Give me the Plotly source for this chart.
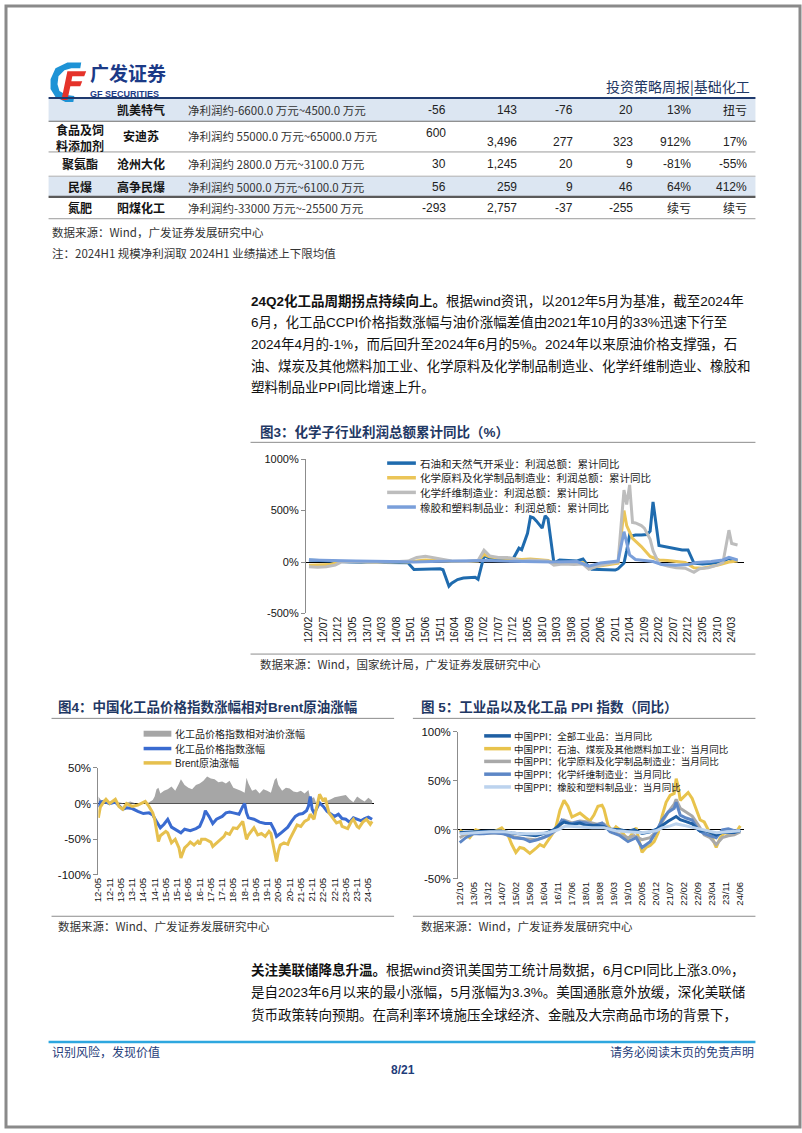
import plotly.graph_objects as go
import pandas as pd

W, H = 802, 1133
def X(p): return p / W
def Y(p): return 1 - p / H

SANS = "Liberation Sans, Noto Sans CJK SC, sans-serif"
CJK = "Noto Sans CJK SC, Liberation Sans, sans-serif"
NAVY = "#1F3864"
TXT = "#141414"

# ====================== DATA ======================
# --- table (continued from previous page) ---
tbl_industry = ["", "食品及饲<br>料添加剂", "聚氨酯", "民爆", "氮肥"]
tbl_company = ["凯美特气", "安迪苏", "沧州大化", "高争民爆", "阳煤化工"]
tbl_desc = ["净利润约-6600.0 万元~4500.0 万元", "净利润约 55000.0 万元~65000.0 万元",
            "净利润约 2800.0 万元~3100.0 万元", "净利润约 5000.0 万元~6100.0 万元",
            "净利润约-33000 万元~-25500 万元"]
tbl_c1 = ["-56", "600", "30", "56", "-293"]
tbl_c2 = ["143", "3,496", "1,245", "259", "2,757"]
tbl_c3 = ["-76", "277", "20", "9", "-37"]
tbl_c4 = ["20", "323", "9", "46", "-255"]
tbl_c5 = ["13%", "912%", "-81%", "64%", "续亏"]
tbl_c6 = ["扭亏", "17%", "-55%", "412%", "续亏"]

# --- figure 3 ---
fig3_ticks = ["12/02", "12/07", "12/12", "13/05", "13/10", "14/03", "14/08", "15/01", "15/06", "15/11",
              "16/04", "16/09", "17/02", "17/07", "17/12", "18/05", "18/10", "19/03", "19/08", "20/01",
              "20/06", "20/11", "21/04", "21/09", "22/02", "22/07", "22/12", "23/05", "23/10", "24/03"]
fig3_yticks = [-500, 0, 500, 1000]
fig3_names = ["石油和天然气开采业：利润总额：累计同比", "化学原料及化学制品制造业：利润总额：累计同比",
              "化学纤维制造业：利润总额：累计同比", "橡胶和塑料制品业：利润总额：累计同比"]

oil_dates = ["2012-02", "2012-05", "2012-09", "2012-12", "2013-04", "2013-08", "2013-12", "2014-04", "2014-08",
             "2014-12", "2015-02", "2015-05", "2015-08", "2015-11", "2015-12", "2016-02", "2016-03", "2016-05",
             "2016-07", "2016-09", "2016-11", "2016-12", "2017-02", "2017-04", "2017-07", "2017-10", "2017-12",
             "2018-02", "2018-03", "2018-04", "2018-05", "2018-06", "2018-07", "2018-08", "2018-09", "2018-10",
             "2018-11", "2018-12", "2019-02", "2019-04", "2019-07", "2019-10", "2019-12", "2020-02", "2020-03",
             "2020-06", "2020-09", "2020-11", "2020-12", "2021-02", "2021-03", "2021-04", "2021-05", "2021-06",
             "2021-08", "2021-10", "2021-11", "2021-12", "2022-02", "2022-04", "2022-06", "2022-08", "2022-10",
             "2022-12", "2023-02", "2023-05", "2023-08", "2023-11", "2024-02", "2024-03", "2024-05"]
oil_vals = [20, 15, 5, 5, 0, -3, 2, -5, -3,
            -8, -72, -68, -66, -65, -75, -235, -205, -170,
            -155, -150, -148, -168, 60, 40, 30, 25, 30,
            135, 120, 200, 280, 440, 430, 400, 360, 330,
            450, 420, -10, 20, 15, 10, 30, -50, -70,
            -72, -75, -78, -65, -10, 110, 265, 255, 262,
            262, 268, 300, 585, 160, 150, 140, 125, 118,
            118, -10, -18, -15, -5, 35, 20, 12]

chem_dates = ["2012-02", "2012-06", "2012-09", "2012-11", "2013-01", "2013-06", "2014-01", "2014-06", "2014-12",
              "2015-03", "2015-06", "2015-09", "2015-12", "2016-03", "2016-08", "2016-12", "2017-02", "2017-04",
              "2017-07", "2017-10", "2017-12", "2018-03", "2018-06", "2018-09", "2018-12", "2019-02", "2019-06",
              "2019-10", "2019-12", "2020-02", "2020-04", "2020-07", "2020-10", "2020-12", "2021-02", "2021-03",
              "2021-05", "2021-08", "2021-11", "2022-02", "2022-05", "2022-08", "2022-11", "2022-12", "2023-02",
              "2023-05", "2023-08", "2023-11", "2024-02", "2024-05"]
chem_vals = [-30, -30, -25, -10, 5, 5, 0, 5, 0,
             10, 20, 15, 10, 5, 5, 10, 75, 50,
             40, 35, 30, 25, 30, 25, 15, -10, -5,
             -10, -5, -55, -45, -30, -20, -10, 500, 355,
             230, 150, 55, 20, 15, 5, -5, -20, -55,
             -60, -45, -25, 0, 10]

fiber_dates = ["2012-02", "2012-05", "2012-08", "2012-11", "2013-01", "2013-06", "2013-12", "2014-06", "2014-12",
               "2015-03", "2015-06", "2015-09", "2015-12", "2016-03", "2016-08", "2016-12", "2017-02", "2017-04",
               "2017-07", "2017-10", "2017-12", "2018-03", "2018-06", "2018-09", "2018-12", "2019-02", "2019-05",
               "2019-09", "2019-12", "2020-02", "2020-05", "2020-08", "2020-11", "2020-12", "2021-02", "2021-03",
               "2021-04", "2021-05", "2021-06", "2021-07", "2021-08", "2021-09", "2021-10", "2021-11", "2021-12",
               "2022-02", "2022-05", "2022-08", "2022-11", "2023-02", "2023-04", "2023-07", "2023-10", "2023-12",
               "2024-02", "2024-03", "2024-05"]
fiber_vals = [-45, -50, -45, -30, 0, 5, 0, 0, 10,
              45, 55, 40, 25, 10, 5, 15, 115, 60,
              45, 45, 35, 10, 20, 15, 10, -30, -20,
              -25, -20, -70, -40, -20, -10, 0, 700, 560,
              750, 385, 380, 365, 355, 330, 280, 220, 110,
              -15, -40, -55, -60, -100, -65, -55, -30, -5,
              310, 180, 165]

rubber_dates = ["2012-02", "2012-08", "2012-12", "2013-06", "2014-06", "2015-02", "2015-08", "2016-06", "2017-02",
                "2017-08", "2018-06", "2019-02", "2019-10", "2020-02", "2020-06", "2020-12", "2021-02", "2021-03",
                "2021-04", "2021-06", "2021-09", "2021-12", "2022-03", "2022-08", "2022-12", "2023-03", "2023-08",
                "2023-12", "2024-02", "2024-05"]
rubber_vals = [20, 15, 10, 10, 5, 0, 5, 10, 15,
               10, 5, 0, 5, -40, -10, 10, 295, 180,
               70, 25, 15, 5, -25, -30, -25, -5, 5,
               20, 45, 20]

# --- figure 4 ---
fig4_ticks = ["12-05", "12-11", "13-05", "13-11", "14-05", "14-11", "15-05", "15-11", "16-05", "16-11",
              "17-05", "17-11", "18-05", "18-11", "19-05", "19-11", "20-05", "20-11", "21-05", "21-11",
              "22-05", "22-11", "23-05", "23-11", "24-05"]
fig4_yticks = [-100, -50, 0, 50]
fig4_names = ["化工品价格指数相对油价涨幅", "化工品价格指数涨幅", "Brent原油涨幅"]

ccpi_dates = ["2012-05", "2012-06", "2012-08", "2012-11", "2013-02", "2013-04", "2013-06", "2013-08", "2013-11",
              "2014-02", "2014-05", "2014-08", "2014-10", "2014-12", "2015-02", "2015-04", "2015-06", "2015-08",
              "2015-10", "2016-01", "2016-03", "2016-06", "2016-09", "2016-11", "2017-01", "2017-02", "2017-04",
              "2017-06", "2017-08", "2017-11", "2018-01", "2018-03", "2018-05", "2018-08", "2018-10", "2018-11",
              "2018-12", "2019-01", "2019-04", "2019-07", "2019-10", "2020-01", "2020-03", "2020-04", "2020-06",
              "2020-08", "2020-10", "2020-12", "2021-02", "2021-04", "2021-06", "2021-08", "2021-09", "2021-10",
              "2021-11", "2021-12", "2022-01", "2022-03", "2022-05", "2022-07", "2022-09", "2022-11", "2023-01",
              "2023-03", "2023-05", "2023-07", "2023-09", "2023-11", "2024-01", "2024-03", "2024-05", "2024-07"]
ccpi_vals = [-5, 2, 3, 0, 2, -3, -8, -6, -7,
             -11, -14, -13, -16, -25, -34, -29, -22, -33,
             -36, -41, -36, -38, -35, -32, -20, -10, -18,
             -28, -22, -18, -13, -12, -13, -15, -4, 0,
             -13, -20, -22, -26, -28, -28, -38, -46, -42,
             -37, -33, -25, -18, -15, -14, -10, -4, 10,
             -8, -13, -9, 1, -4, -11, -15, -18, -15,
             -21, -22, -26, -20, -22, -24, -21, -19, -22]

brent_dates = ["2012-05", "2012-06", "2012-08", "2012-09", "2012-11", "2013-02", "2013-04", "2013-06", "2013-08",
               "2013-11", "2014-02", "2014-06", "2014-08", "2014-10", "2014-11", "2015-01", "2015-02", "2015-05",
               "2015-06", "2015-08", "2015-10", "2015-12", "2016-01", "2016-03", "2016-05", "2016-06", "2016-08",
               "2016-10", "2016-11", "2016-12", "2017-02", "2017-05", "2017-06", "2017-08", "2017-10", "2017-12",
               "2018-01", "2018-03", "2018-05", "2018-07", "2018-10", "2018-12", "2019-01", "2019-04", "2019-06",
               "2019-08", "2019-10", "2019-12", "2020-01", "2020-03", "2020-04", "2020-05", "2020-06", "2020-08",
               "2020-10", "2020-11", "2021-01", "2021-03", "2021-05", "2021-07", "2021-09", "2021-10", "2021-12",
               "2022-01", "2022-03", "2022-05", "2022-06", "2022-08", "2022-10", "2022-12", "2023-02", "2023-03",
               "2023-05", "2023-06", "2023-08", "2023-09", "2023-11", "2023-12", "2024-02", "2024-04", "2024-06",
               "2024-07"]
brent_vals = [-20, -5, 3, 6, 0, 6, -4, -8, 0,
              -4, -2, 3, -4, -13, -22, -53, -45, -39,
              -41, -55, -50, -62, -76, -62, -57, -54, -58,
              -53, -57, -50, -50, -54, -60, -55, -50, -46,
              -41, -43, -34, -35, -25, -50, -44, -34, -44,
              -42, -46, -39, -42, -70, -81, -67, -58, -55,
              -57, -50, -39, -30, -32, -25, -22, -15, -22,
              -11, 13, 3, 8, -13, -20, -27, -25, -32,
              -34, -35, -25, -22, -32, -34, -26, -22, -29,
              -25]

spread_dates = ["2012-05", "2012-06", "2012-08", "2012-10", "2013-01", "2013-04", "2013-07", "2013-10", "2014-01",
                "2014-04", "2014-07", "2014-10", "2014-11", "2014-12", "2015-01", "2015-02", "2015-04", "2015-06",
                "2015-08", "2015-10", "2015-12", "2016-01", "2016-03", "2016-05", "2016-07", "2016-09", "2016-11",
                "2017-01", "2017-03", "2017-05", "2017-07", "2017-09", "2017-11", "2018-01", "2018-03", "2018-05",
                "2018-07", "2018-09", "2018-11", "2018-12", "2019-01", "2019-03", "2019-05", "2019-07", "2019-09",
                "2019-11", "2020-01", "2020-03", "2020-04", "2020-05", "2020-07", "2020-09", "2020-11", "2021-01",
                "2021-03", "2021-05", "2021-07", "2021-09", "2021-10", "2021-12", "2022-01", "2022-03", "2022-05",
                "2022-07", "2022-09", "2022-11", "2023-01", "2023-03", "2023-05", "2023-07", "2023-09", "2023-11",
                "2024-01", "2024-03", "2024-05", "2024-07"]
spread_vals = [10, 6, 1, 2, 0, 2, 0, 3, 0,
               0, 0, 5, 10, 20, 22, 14, 18, 20,
               24, 18, 28, 34, 26, 22, 20, 26, 28,
               32, 38, 35, 34, 30, 31, 28, 32, 22,
               20, 18, 15, 36, 28, 18, 20, 14, 20,
               18, 15, 33, 36, 26, 18, 22, 21, 17,
               16, 18, 14, 19, 7, 9, 2, 0, 0,
               4, 6, 9, 10, 11, 12, 6, 2, 10,
               6, 3, 8, 4]

# --- figure 5 ---
fig5_ticks = ["12/10", "13/05", "13/12", "14/07", "15/02", "15/09", "16/04", "16/11", "17/06", "18/01", "18/08",
              "19/03", "19/10", "20/05", "20/12", "21/07", "22/02", "22/09", "23/04", "23/11", "24/06"]
fig5_yticks = [-50, 0, 50, 100]
fig5_names = ["中国PPI：全部工业品：当月同比", "中国PPI：石油、煤炭及其他燃料加工业：当月同比",
              "中国PPI：化学原料及化学制品制造业：当月同比", "中国PPI：化学纤维制造业：当月同比",
              "中国PPI：橡胶和塑料制品业：当月同比"]

ppi_all_dates = ["2012-10", "2013-03", "2013-08", "2013-12", "2014-06", "2014-12", "2015-06", "2015-12", "2016-06",
                 "2016-09", "2016-12", "2017-02", "2017-06", "2017-10", "2018-01", "2018-06", "2018-10", "2018-12",
                 "2019-06", "2019-10", "2020-01", "2020-05", "2020-09", "2020-12", "2021-03", "2021-06", "2021-10",
                 "2021-12", "2022-03", "2022-06", "2022-10", "2022-12", "2023-03", "2023-06", "2023-09", "2023-12",
                 "2024-03", "2024-06"]
ppi_all_vals = [-2.8, -1.9, -1.6, -1.4, -1.1, -3.3, -4.8, -5.9, -2.6,
                0.1, 5.5, 7.8, 5.5, 6.9, 4.3, 4.7, 3.3, 0.9,
                0.0, -1.6, 0.1, -3.7, -2.1, 0.4, 4.4, 8.8, 13.5,
                10.3, 8.3, 6.1, -1.3, -0.7, -2.5, -5.4, -2.5, -2.7,
                -2.8, -0.8]

ppi_fuel_dates = ["2012-10", "2012-12", "2013-03", "2013-06", "2013-10", "2014-02", "2014-07", "2014-10", "2014-12",
                  "2015-02", "2015-04", "2015-06", "2015-09", "2015-12", "2016-02", "2016-04", "2016-06", "2016-08",
                  "2016-10", "2016-12", "2017-02", "2017-04", "2017-06", "2017-08", "2017-10", "2018-01", "2018-03",
                  "2018-05", "2018-07", "2018-09", "2018-10", "2018-12", "2019-02", "2019-04", "2019-06", "2019-08",
                  "2019-10", "2019-12", "2020-02", "2020-04", "2020-05", "2020-07", "2020-09", "2020-11", "2021-01",
                  "2021-03", "2021-05", "2021-07", "2021-09", "2021-10", "2021-11", "2021-12", "2022-02", "2022-04",
                  "2022-06", "2022-08", "2022-10", "2022-12", "2023-02", "2023-04", "2023-06", "2023-08", "2023-10",
                  "2023-12", "2024-02", "2024-04", "2024-06"]
ppi_fuel_vals = [0, -3, -8, 0, -3, -3, 2, -5, -15,
                 -23, -18, -19, -24, -19, -15, -17, -11, -5,
                 3, 20, 30, 24, 13, 15, 17, 12, 9,
                 15, 24, 25, 21, 5, -2, 3, 0, -5,
                 -10, -4, 2, -15, -23, -18, -16, -12, -3,
                 14, 28, 35, 37, 52, 44, 30, 34, 38,
                 32, 20, 10, 8, 0, -8, -18, -8, -3,
                 -4, -3, -2, 4]

ppi_chem_dates = ["2012-10", "2013-02", "2013-08", "2014-02", "2014-08", "2015-01", "2015-06", "2015-12", "2016-04",
                  "2016-08", "2016-11", "2017-02", "2017-06", "2017-10", "2018-02", "2018-06", "2018-10", "2019-02",
                  "2019-06", "2019-10", "2020-01", "2020-05", "2020-09", "2020-12", "2021-03", "2021-06", "2021-09",
                  "2021-10", "2021-12", "2022-03", "2022-06", "2022-09", "2022-12", "2023-03", "2023-06", "2023-09",
                  "2023-12", "2024-03", "2024-06"]
ppi_chem_vals = [-8, -3, -4, -3, -4, -7, -9, -10, -8,
                 -4, 1, 10, 7, 9, 8, 6, 6, -2,
                 -5, -8, -6, -10, -8, -2, 8, 18, 26,
                 31, 22, 18, 14, 5, -5, -8, -15, -8,
                 -6, -5, -2]

ppi_fiber_dates = ["2012-10", "2013-01", "2013-05", "2013-10", "2014-03", "2014-08", "2015-01", "2015-06", "2015-09",
                   "2016-01", "2016-06", "2016-10", "2017-01", "2017-05", "2017-09", "2018-01", "2018-05", "2018-09",
                   "2019-01", "2019-06", "2019-10", "2020-02", "2020-05", "2020-09", "2020-12", "2021-03", "2021-06",
                   "2021-09", "2021-10", "2021-12", "2022-03", "2022-06", "2022-09", "2022-12", "2023-03", "2023-06",
                   "2023-09", "2023-12", "2024-03", "2024-06"]
ppi_fiber_vals = [-13, -8, -4, -4, -3, -4, -8, -9, -12,
                  -10, -6, 0, 10, 6, 8, 7, 4, 7,
                  -2, -6, -12, -8, -18, -12, -2, 10, 18,
                  22, 28, 15, 12, 10, 0, -4, -6, -8,
                  0, 1, -1, -1]

ppi_rubber_dates = ["2012-10", "2013-04", "2014-01", "2014-08", "2015-04", "2015-12", "2016-06", "2016-11", "2017-03",
                    "2017-09", "2018-04", "2018-10", "2019-04", "2019-10", "2020-05", "2020-12", "2021-03", "2021-07",
                    "2021-10", "2022-03", "2022-09", "2023-02", "2023-06", "2023-12", "2024-06"]
ppi_rubber_vals = [-4, -3, -2, -2, -4, -4, -3, 0, 4,
                   3, 2, 2, -1, -2, -3, -1, 2, 4,
                   6, 4, 1, -1, -3, -2, -1]

# ====================== FIGURE ======================
fig = go.Figure()
shapes, annos = [], []

def line(x0, y0, x1, y1, color, width, layer="above"):
    shapes.append(dict(type="line", xref="paper", yref="paper", x0=X(x0), y0=Y(y0), x1=X(x1), y1=Y(y1),
                       line=dict(color=color, width=width), layer=layer))

def rect(x0, y0, x1, y1, fill, layer="below"):
    shapes.append(dict(type="rect", xref="paper", yref="paper", x0=X(x0), y0=Y(y1), x1=X(x1), y1=Y(y0),
                       fillcolor=fill, line=dict(width=0), layer=layer))

def text(x, y, s, size, color=TXT, family=CJK, anchor="left", bold=False):
    if bold:
        s = "<b>" + s + "</b>"
    annos.append(dict(xref="paper", yref="paper", x=X(x), y=Y(y), text=s, showarrow=False,
                      xanchor=anchor, yanchor="middle", font=dict(size=size, color=color, family=family),
                      borderpad=0))

def path(points, fill):
    d = "M " + " L ".join(f"{X(a):.5f},{Y(b):.5f}" for a, b in points) + " Z"
    shapes.append(dict(type="path", xref="paper", yref="paper", path=d, fillcolor=fill, line=dict(width=0)))

# page frame
shapes.append(dict(type="rect", xref="paper", yref="paper", x0=0, y0=0, x1=1, y1=1,
                   line=dict(color="#8A8A8A", width=3), fillcolor="rgba(0,0,0,0)"))

# ---------- header ----------
path([(76, 57), (62, 57), (50, 63), (45, 74), (45, 84), (50, 92), (60, 97), (68, 97), (69, 91), (61, 90),
      (54, 86), (52, 79), (53, 71), (59, 65), (66, 63), (75, 63)], "#1E93D6")
path([(62, 66), (81, 66), (79, 71), (67, 71), (66, 76), (77, 76), (75, 81), (65, 81), (62, 95), (56, 95)], "#E5332A")
text(84, 67, "<b>广发证券</b>", 19, color="#1B3A87")
text(84, 89, "<b>GF SECURITIES</b>", 9, color="#1B3A87", family=SANS)
text(753, 81, "投资策略周报|基础化工", 14, color=NAVY, anchor="right")
line(43, 93, 757, 93, "#1F3A6E", 2)

# ---------- table ----------
rect(43, 94, 757, 116.5, "#DCE6F2")
rect(43, 172, 757, 192.5, "#DCE6F2")
line(43, 116.5, 757, 116.5, "#6E6E6E", 1.2)
line(43, 147.5, 757, 147.5, "#9A9A9A", 1)
line(43, 172, 757, 172, "#B0B0B0", 1)
line(43, 193, 757, 193, "#5A5A5A", 2.2)
line(43, 215, 757, 215, "#9A9A9A", 1)

row_y = [105, 131, 159.5, 182.5, 204]
num_x = [445, 517, 574, 634, 693, 749]
for i in range(5):
    yy = row_y[i]
    if tbl_industry[i]:
        text(75, yy + (2 if i == 1 else 0), tbl_industry[i], 12, anchor="center", bold=True)
    text(136, yy, tbl_company[i], 12, anchor="center", bold=True)
    text(183, yy, tbl_desc[i], 11.5, color="#333333")
    cols = [tbl_c1, tbl_c2, tbl_c3, tbl_c4, tbl_c5, tbl_c6]
    for j, col in enumerate(cols):
        cy = yy
        if i == 1:
            cy = 128 if j == 0 else 137
        fam = SANS if any(ch.isdigit() for ch in col[i]) else CJK
        text(num_x[j], cy, col[i], 12, color="#222222", family=fam, anchor="right")

text(45, 228, "数据来源：Wind，广发证券发展研究中心", 11.5, color="#333333")
text(45, 250, "注：2024H1 规模净利润取 2024H1 业绩描述上下限均值", 11.5, color="#333333")

# ---------- paragraph 1 ----------
para1 = ["<b>24Q2化工品周期拐点持续向上。</b>根据wind资讯，以2012年5月为基准，截至2024年",
         "6月，化工品CCPI价格指数涨幅与油价涨幅差值由2021年10月的33%迅速下行至",
         "2024年4月的-1%，而后回升至2024年6月的5%。2024年以来原油价格支撑强，石",
         "油、煤炭及其他燃料加工业、化学原料及化学制品制造业、化学纤维制造业、橡胶和",
         "塑料制品业PPI同比增速上升。"]
for k, s in enumerate(para1):
    text(246, 298.5 + k * 21.7, s, 13.5, color="#111111", family=SANS)

# ---------- figure 3 ----------
text(256, 431, "图3：化学子行业利润总额累计同比（%）", 13.5, color=NAVY, bold=True, family=SANS)
line(247, 441, 757, 441, "#8C8C8C", 1)
line(247, 655, 757, 655, "#8C8C8C", 1)
text(256, 665, "数据来源：Wind，国家统计局，广发证券发展研究中心", 11.5, color="#333333")

c3 = ["#1F6BAE", "#EBC558", "#BDBDBD", "#7A9FDA"]
series3 = [(oil_dates, oil_vals), (chem_dates, chem_vals), (fiber_dates, fiber_vals), (rubber_dates, rubber_vals)]
for (dts, vals), col in zip(series3, c3):
    fig.add_trace(go.Scatter(x=dts, y=vals, mode="lines", line=dict(color=col, width=3),
                             xaxis="x", yaxis="y", showlegend=False, hoverinfo="skip"))
for k, (nm, col) in enumerate(zip(fig3_names, c3)):
    yy = 462 + k * 14.8
    line(385, yy, 414, yy, col, 3.5)
    text(417, yy, nm, 10.5, color="#222222")

# ---------- figure 4 ----------
text(52, 709, "图4：中国化工品价格指数涨幅相对Brent原油涨幅", 13.5, color=NAVY, bold=True, family=SANS)
line(46, 720, 392, 720, "#8C8C8C", 1)
line(46, 920, 392, 920, "#8C8C8C", 1)
text(52, 930, "数据来源：Wind、广发证券发展研究中心", 11.5, color="#333333")

fig.add_trace(go.Scatter(x=spread_dates, y=spread_vals, mode="none", fill="tozeroy", fillcolor="#A6A6A6",
                         xaxis="x2", yaxis="y2", showlegend=False, hoverinfo="skip"))
fig.add_trace(go.Scatter(x=ccpi_dates, y=ccpi_vals, mode="lines", line=dict(color="#3A6BD0", width=3),
                         xaxis="x2", yaxis="y2", showlegend=False, hoverinfo="skip"))
fig.add_trace(go.Scatter(x=brent_dates, y=brent_vals, mode="lines", line=dict(color="#E6C04E", width=3),
                         xaxis="x2", yaxis="y2", showlegend=False, hoverinfo="skip"))
rect(139, 732.5, 167, 738.5, "#A6A6A6", layer="above")
text(170, 735.5, fig4_names[0], 10, color="#222222")
line(139, 750.5, 167, 750.5, "#3A6BD0", 3.5)
text(170, 750.5, fig4_names[1], 10, color="#222222")
line(139, 765, 167, 765, "#E6C04E", 3.5)
text(170, 765, fig4_names[2], 10, color="#222222", family=SANS)

# ---------- figure 5 ----------
text(418, 709, "图 5：工业品以及化工品 PPI 指数（同比）", 13.5, color=NAVY, bold=True, family=SANS)
line(411, 720, 757, 720, "#8C8C8C", 1)
line(411, 920, 757, 920, "#8C8C8C", 1)
text(418, 930, "数据来源：Wind，广发证券发展研究中心", 11.5, color="#333333")

c5 = ["#1F5FA3", "#E8C34C", "#A9A9A9", "#5D87C6", "#BCD3EE"]
series5 = [(ppi_all_dates, ppi_all_vals), (ppi_fuel_dates, ppi_fuel_vals), (ppi_chem_dates, ppi_chem_vals),
           (ppi_fiber_dates, ppi_fiber_vals), (ppi_rubber_dates, ppi_rubber_vals)]
order5 = [1, 2, 3, 0, 4]
for idx in order5:
    dts, vals = series5[idx]
    fig.add_trace(go.Scatter(x=dts, y=vals, mode="lines", line=dict(color=c5[idx], width=3),
                             xaxis="x3", yaxis="y3", showlegend=False, hoverinfo="skip"))
for k, (nm, col) in enumerate(zip(fig5_names, c5)):
    yy = 737.7 + k * 12.9
    line(483, yy, 510, yy, col, 3.5)
    text(512, yy, nm, 9.5, color="#222222")

# ---------- paragraph 2 ----------
para2 = ["<b>关注美联储降息升温。</b>根据wind资讯美国劳工统计局数据，6月CPI同比上涨3.0%，",
         "是自2023年6月以来的最小涨幅，5月涨幅为3.3%。美国通胀意外放缓，深化美联储",
         "货币政策转向预期。在高利率环境施压全球经济、金融及大宗商品市场的背景下，"]
for k, s in enumerate(para2):
    text(246, 974 + k * 23, s, 13.5, color="#111111", family=SANS)

# ---------- footer ----------
line(43, 1047, 757, 1047, "#2EA7DF", 2.5)
text(45, 1057, "识别风险，发现价值", 12, color="#1F3D7A")
text(757, 1057, "请务必阅读末页的免责声明", 12, color="#1F3D7A", anchor="right")
text(401, 1075, "<b>8/21</b>", 12, color="#1F3D7A", anchor="center", family=SANS)

# ---------- axes ----------
def to_date(lbl):
    sep = "/" if "/" in lbl else "-"
    yy, mm = lbl.split(sep)
    return f"20{yy}-{mm}-01"

def date_range(t0, p0, t1, p1, d0, d1):
    a, b = pd.Timestamp(t0), pd.Timestamp(t1)
    ppd = (p1 - p0) / (b - a).days
    s = a - pd.Timedelta(days=(p0 - d0) / ppd)
    e = a + pd.Timedelta(days=(d1 - p0) / ppd)
    return [s.strftime("%Y-%m-%d %H:%M"), e.strftime("%Y-%m-%d %H:%M")]

def xax(dom, anchor, ticks, rng, size):
    return dict(domain=[X(dom[0]), X(dom[1])], anchor=anchor, type="date", range=rng,
                tickmode="array", tickvals=[to_date(t) for t in ticks], ticktext=ticks,
                tickangle=-90, tickfont=dict(size=size, color=TXT, family=SANS),
                showgrid=False, zeroline=False, showline=False, ticks="", fixedrange=True)

def yax(dom, anchor, tv, rng, size):
    return dict(domain=[Y(dom[1]), Y(dom[0])], anchor=anchor, range=rng, tickmode="array", tickvals=tv,
                ticktext=[f"{v}%" for v in tv], tickfont=dict(size=size, color=TXT, family=SANS),
                showline=True, linecolor="#8C8C8C", linewidth=1, ticks="outside", ticklen=4,
                tickcolor="#8C8C8C", showgrid=False, zeroline=True, zerolinecolor="#000000",
                zerolinewidth=1, fixedrange=True)

fig.update_layout(
    width=W, height=H, margin=dict(l=0, r=0, t=0, b=0),
    paper_bgcolor="white", plot_bgcolor="rgba(0,0,0,0)", showlegend=False,
    xaxis=xax((303, 745), "y", fig3_ticks,
              date_range(to_date(fig3_ticks[0]), 306, to_date(fig3_ticks[-1]), 733, 303, 745), 10.5),
    yaxis=yax((458, 614), "x", fig3_yticks, [-500, 1000], 11),
    xaxis2=xax((93.3, 372), "y2", fig4_ticks,
               date_range(to_date(fig4_ticks[0]), 93.3, to_date(fig4_ticks[-1]), 366, 93.3, 372), 9.5),
    yaxis2=yax((770, 878.3), "x2", fig4_yticks, [-100, 50], 11.5),
    xaxis3=xax((456.7, 745), "y3", fig5_ticks,
               date_range(to_date(fig5_ticks[0]), 458.3, to_date(fig5_ticks[-1]), 741.7, 456.7, 745), 9.5),
    yaxis3=yax((733.3, 882.3), "x3", fig5_yticks, [-50, 100], 11.5),
    shapes=shapes, annotations=annos,
)

fig.write_html("out.html")
